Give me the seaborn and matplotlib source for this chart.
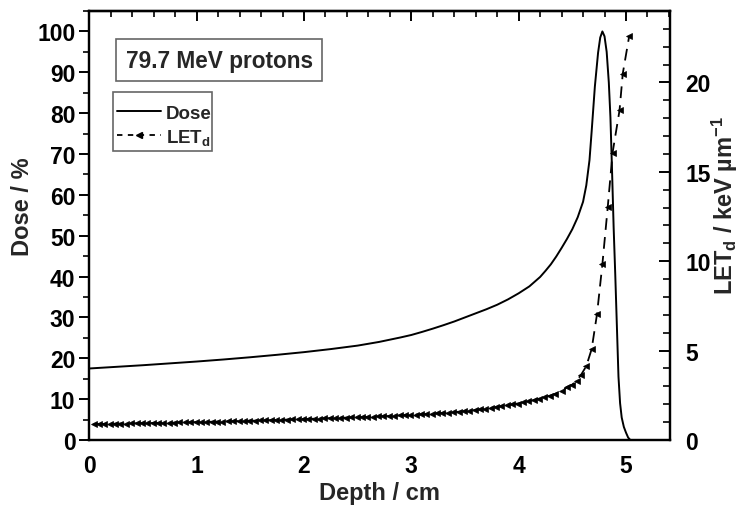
import numpy as np
import pandas as pd
import matplotlib
matplotlib.use('Agg')
import matplotlib.pyplot as plt
import seaborn as sns
from matplotlib.ticker import MultipleLocator, NullFormatter
from matplotlib.lines import Line2D
from matplotlib.patches import Rectangle

# ---- Data ----
dose_depth = [0.00, 0.25, 0.50, 0.75, 1.00, 1.25, 1.50, 1.75, 2.00, 2.25, 2.50, 2.60,
              2.70, 2.80, 2.90, 3.00, 3.10, 3.20, 3.30, 3.40, 3.50, 3.60, 3.70, 3.80,
              3.90, 4.00, 4.10, 4.20, 4.25, 4.30, 4.35, 4.40, 4.45, 4.50, 4.55, 4.60, 4.63,
              4.66, 4.68, 4.71, 4.74, 4.76, 4.78, 4.80, 4.82, 4.84, 4.855, 4.87, 4.885,
              4.90, 4.915, 4.93, 4.945, 4.96, 4.98, 5.00, 5.02, 5.04]
dose_pct = [17.5, 17.9, 18.3, 18.75, 19.2, 19.7, 20.25, 20.85, 21.5, 22.25, 23.1, 23.55,
            24.0, 24.55, 25.1, 25.7, 26.45, 27.25, 28.1, 29.0, 30.0, 31.0, 32.0, 33.1,
            34.4, 35.9, 37.6, 39.9, 41.4, 43.0, 44.9, 47.0, 49.2, 51.6, 54.5, 58.3, 62.3,
            68.5, 75.5, 86.5, 94.8, 98.5, 100.0, 98.8, 95.0, 87.5, 79.0, 66.0, 52.0,
            40.5, 28.0, 15.5, 9.0, 5.5, 3.2, 1.8, 0.6, 0.0]

let_depth = [0.04, 0.09, 0.14, 0.19, 0.24, 0.29, 0.34, 0.39, 0.44, 0.49,
             0.54, 0.59, 0.64, 0.69, 0.74, 0.79, 0.84, 0.89, 0.94, 0.99,
             1.04, 1.09, 1.14, 1.19, 1.24, 1.29, 1.34, 1.39, 1.44, 1.49,
             1.54, 1.59, 1.64, 1.69, 1.74, 1.79, 1.84, 1.89, 1.94, 1.99,
             2.04, 2.09, 2.14, 2.19, 2.24, 2.29, 2.34, 2.39, 2.44, 2.49,
             2.54, 2.59, 2.64, 2.69, 2.74, 2.79, 2.84, 2.89, 2.94, 2.99,
             3.04, 3.09, 3.14, 3.19, 3.24, 3.29, 3.34, 3.39, 3.44, 3.49,
             3.54, 3.59, 3.64, 3.69, 3.74, 3.79, 3.84, 3.89, 3.94, 3.99,
             4.04, 4.09, 4.14, 4.19, 4.24, 4.29, 4.34,
             4.405, 4.45, 4.50, 4.54, 4.58, 4.63, 4.68, 4.73, 4.78, 4.83,
             4.875, 4.94, 4.97, 5.03]
let_val = [0.90, 0.90, 0.90, 0.91, 0.91, 0.92, 0.92, 0.93, 0.93, 0.94,
           0.94, 0.95, 0.95, 0.96, 0.96, 0.97, 0.98, 0.98, 0.99, 1.00,
           1.00, 1.01, 1.02, 1.03, 1.03, 1.04, 1.05, 1.06, 1.07, 1.08,
           1.08, 1.09, 1.10, 1.11, 1.12, 1.13, 1.14, 1.15, 1.16, 1.17,
           1.18, 1.19, 1.20, 1.21, 1.22, 1.23, 1.24, 1.25, 1.26, 1.27,
           1.28, 1.29, 1.30, 1.32, 1.33, 1.34, 1.36, 1.37, 1.39, 1.40,
           1.42, 1.43, 1.45, 1.47, 1.49, 1.51, 1.53, 1.55, 1.58, 1.61,
           1.64, 1.67, 1.71, 1.75, 1.79, 1.84, 1.89, 1.94, 1.99, 2.04,
           2.10, 2.16, 2.23, 2.31, 2.39, 2.48, 2.58,
           2.74, 2.96, 3.10, 3.32, 3.63, 4.13, 5.08, 7.04, 9.83, 13.03,
           16.07, 18.45, 20.5, 22.6]

x_ticks = [0, 1, 2, 3, 4, 5]
dose_ticks = [0, 10, 20, 30, 40, 50, 60, 70, 80, 90, 100]
let_ticks = [0, 5, 10, 15, 20]

title_text = "79.7 MeV protons"
x_label = "Depth / cm"
y_label = "Dose / %"
y2_label = r"LET$_\mathregular{d}$ / keV µm$^\mathregular{-1}$"
legend_labels = ['Dose', r'LET$_\mathregular{d}$']

# ---- Style ----
sns.set_theme(style='white')
plt.rcParams['font.family'] = ['Liberation Sans', 'DejaVu Sans']
plt.rcParams['font.weight'] = 'bold'
plt.rcParams['axes.labelweight'] = 'bold'
plt.rcParams['mathtext.default'] = 'regular'

TICK_FS = 16.5
LABEL_FS = 17

fig = plt.figure(figsize=(7.4, 5.06), dpi=100)
ax = fig.add_axes([0.1207, 0.1285, 0.7847, 0.8478])
ax2 = ax.twinx()

dose_df = pd.DataFrame({'depth': dose_depth, 'dose': dose_pct})
let_df = pd.DataFrame({'depth': let_depth, 'let': let_val})

LET_DASH = (0, (6.5, 4))
sns.lineplot(data=dose_df, x='depth', y='dose', ax=ax, color='black', linewidth=1.4)
sns.lineplot(data=let_df, x='depth', y='let', ax=ax2, color='black', linewidth=1.3,
             linestyle=LET_DASH, marker='<', markersize=4.5, markeredgewidth=0.5,
             markeredgecolor='black', markerfacecolor='black')

ax.set_xlim(0, 5.41)
ax.set_ylim(0, 105)
ax2.set_ylim(0, 24)

ax.set_xticks(x_ticks)
ax.set_yticks(dose_ticks)
ax2.set_yticks(let_ticks)
ax.xaxis.set_minor_locator(MultipleLocator(0.2))
ax.yaxis.set_minor_locator(MultipleLocator(5))
ax2.yaxis.set_minor_locator(MultipleLocator(1))

ax.tick_params(axis='both', which='major', direction='out', length=7, width=1.4,
               labelsize=TICK_FS, color='black', labelcolor='black', pad=3)
ax.tick_params(axis='both', which='minor', direction='out', length=4, width=1.2, color='black')
ax.tick_params(axis='x', which='both', top=False)
ax2.tick_params(axis='y', which='major', direction='in', length=8, width=1.4,
                labelsize=TICK_FS, color='black', labelcolor='black', pad=11)
ax2.tick_params(axis='y', which='minor', direction='in', length=5, width=1.2, color='black')

# top axis: inward ticks, no labels
top = ax.secondary_xaxis('top')
top.set_xticks(x_ticks)
top.xaxis.set_minor_locator(MultipleLocator(0.2))
top.xaxis.set_major_formatter(NullFormatter())
top.tick_params(axis='x', which='major', direction='in', length=7, width=1.4, color='black')
top.tick_params(axis='x', which='minor', direction='in', length=4, width=1.2, color='black')
top.spines['top'].set_linewidth(1.6)
top.spines['top'].set_color('black')

for a in (ax, ax2):
    for s in a.spines.values():
        s.set_linewidth(1.6)
        s.set_color('black')
for lab in ax.get_xticklabels() + ax.get_yticklabels() + ax2.get_yticklabels():
    lab.set_fontweight('bold')

ax.set_xlabel(x_label, fontsize=LABEL_FS, fontweight='bold', labelpad=3)
ax.set_ylabel(y_label, fontsize=LABEL_FS, fontweight='bold')
ax2.set_ylabel(y2_label, fontsize=LABEL_FS, fontweight='bold')
ax.yaxis.set_label_coords(-0.095, 0.545)
ax2.yaxis.set_label_coords(1.069, 0.55)

ax.text(0.2241, 0.885, title_text, transform=ax.transAxes, ha='center', va='center',
        fontsize=16.3, fontweight='bold',
        bbox=dict(boxstyle='square,pad=0.42', fc='white', ec='#666666', lw=1.2))

# legend frame (reference box is tight horizontally, roomy vertically)
ax.add_patch(Rectangle((0.0403, 0.6744), 0.1705, 0.1361, transform=ax.transAxes,
                       fc='white', ec='#666666', lw=1.2, zorder=4))
handles = [Line2D([], [], color='black', lw=1.4),
           Line2D([], [], color='black', lw=1.3, linestyle=(0, (3, 3)), marker='<',
                  markersize=4.5)]
leg = ax.legend(handles, legend_labels, loc='upper left', bbox_to_anchor=(0.0477, 0.782),
                borderaxespad=0, frameon=False,
                prop={'weight': 'bold', 'size': 13.5}, handlelength=2.35, handletextpad=0.27,
                borderpad=0, labelspacing=0.28)
leg.set_zorder(5)

fig.savefig('out.png', dpi=100)
